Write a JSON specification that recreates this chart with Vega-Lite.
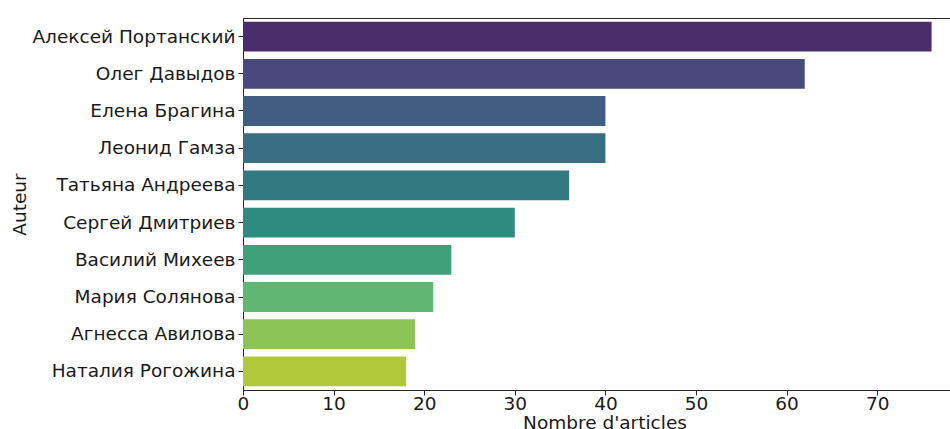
{
  "$schema": "https://vega.github.io/schema/vega-lite/v6.json",
  "autosize": "none",
  "width": 723,
  "height": 372,
  "padding": {"left": 243, "top": 18, "right": 0, "bottom": 39},
  "background": "white",
  "config": {
    "font": "DejaVu Sans",
    "view": {"stroke": "#262626", "strokeWidth": 1},
    "axis": {"labelFont": "DejaVu Sans", "titleFont": "DejaVu Sans", "labelColor": "#1a1a1a", "titleColor": "#1a1a1a", "tickColor": "#262626", "domainColor": "#262626", "grid": false, "labelFontSize": 18.5, "titleFontSize": 18.5, "titleFontWeight": "normal", "tickSize": 5}
  },
  "data": {"values": [
    {"auteur": "Алексей Портанский", "n": 76},
    {"auteur": "Олег Давыдов", "n": 62},
    {"auteur": "Елена Брагина", "n": 40},
    {"auteur": "Леонид Гамза", "n": 40},
    {"auteur": "Татьяна Андреева", "n": 36},
    {"auteur": "Сергей Дмитриев", "n": 30},
    {"auteur": "Василий Михеев", "n": 23},
    {"auteur": "Мария Солянова", "n": 21},
    {"auteur": "Агнесса Авилова", "n": 19},
    {"auteur": "Наталия Рогожина", "n": 18}
  ]},
  "mark": {"type": "bar"},
  "encoding": {
    "y": {"field": "auteur", "type": "nominal", "sort": null,
      "scale": {"paddingInner": 0.2, "paddingOuter": 0.1},
      "axis": {"title": "Auteur", "titlePadding": 14, "labelPadding": 3, "labelLimit": 300}},
    "x": {"field": "n", "type": "quantitative",
      "scale": {"domain": [0, 79.8], "nice": false},
      "axis": {"title": "Nombre d'articles", "values": [0,10,20,30,40,50,60,70], "labelPadding": -1, "titlePadding": 1, "labelFlush": false}},
    "color": {"field": "auteur", "type": "nominal", "sort": null, "legend": null,
      "scale": {"range": ["#492e6b", "#4a497d", "#415d82", "#386d82", "#327981", "#2e8b7f", "#3ea17a", "#60b772", "#8cc458", "#b2c83b"]}}
  }
}
